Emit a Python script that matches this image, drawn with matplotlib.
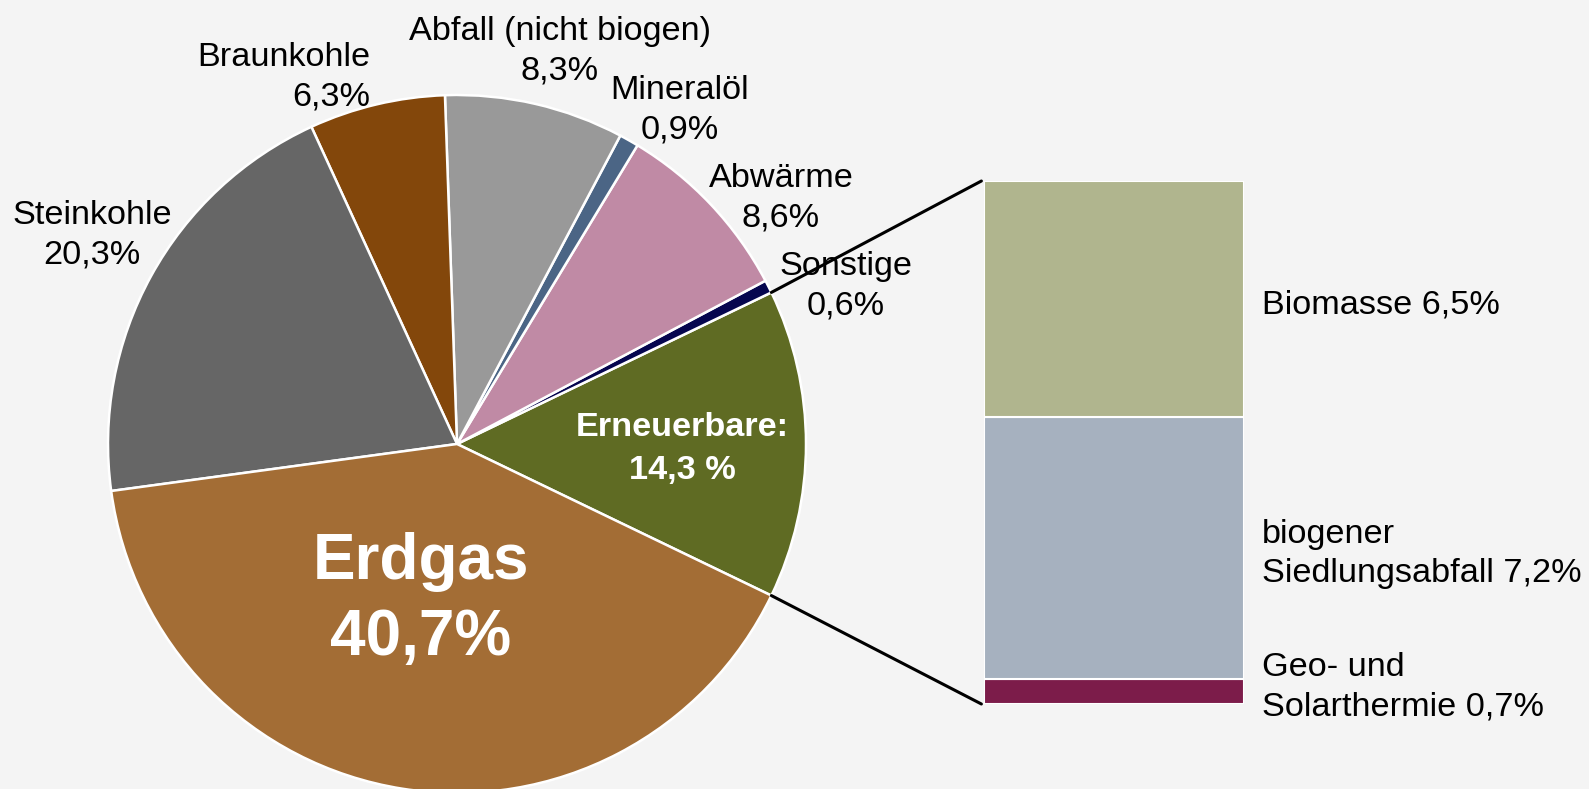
"""
Wärmeerzeugung nach Energieträgern: Kreis mit Aufschlüsselung der Erneuerbaren als Balken.
"""

import matplotlib
matplotlib.use("Agg")
import matplotlib.pyplot as plt
import numpy as np
from matplotlib.patches import ConnectionPatch

plt.rcParams["font.family"] = ["Liberation Sans", "DejaVu Sans"]

# ── Daten ──────────────────────────────────────────────────────────────────────
pie_labels = ["Erneuerbare", "Sonstige", "Abwärme", "Mineralöl",
              "Abfall (nicht biogen)", "Braunkohle", "Steinkohle", "Erdgas"]
pie_values = [14.3, 0.6, 8.6, 0.9, 8.3, 6.3, 20.3, 40.7]
pie_colors = ["#5F6B23", "#06064F", "#C08AA5", "#4B6585",
              "#999999", "#83470B", "#666666", "#A36D35"]

bar_labels = ["Geo- und\nSolarthermie", "biogener\nSiedlungsabfall", "Biomasse"]
bar_values = [0.7, 7.2, 6.5]
bar_colors = ["#7C1C4A", "#A6B1BF", "#B0B58E"]

BG = "#F4F4F4"
W, H = 1589, 789
FS = 24.7
LS = 1.34


def fmt(v):
    return f"{v:.1f}%".replace(".", ",")


def px(x, y):
    """Pixel (von oben links) -> Figurenkoordinaten."""
    return x / W, 1 - y / H


fig = plt.figure(figsize=(W / 100, H / 100), dpi=100, facecolor=BG)

# ── Kreis ──────────────────────────────────────────────────────────────────────
cx, cy, r = 457, 444, 349
ax_pie = fig.add_axes([(cx - r) / W, 1 - (cy + r) / H, 2 * r / W, 2 * r / H])
ax_pie.set_facecolor(BG)
start = -pie_values[0] / 2 * 3.6
wedges, _ = ax_pie.pie(pie_values, colors=pie_colors, startangle=start,
                       counterclock=True,
                       wedgeprops=dict(edgecolor="white", linewidth=1.8))
ax_pie.set_xlim(-1, 1)
ax_pie.set_ylim(-1, 1)
ax_pie.set_aspect("equal")
ax_pie.axis("off")
for w in wedges:
    w.set_clip_on(False)

# ── Balken ─────────────────────────────────────────────────────────────────────
bx0, bx1, by0, by1 = 984, 1244, 181, 704
ax_bar = fig.add_axes([bx0 / W, 1 - by1 / H, (bx1 - bx0) / W, (by1 - by0) / H])
ax_bar.set_facecolor(BG)
bottom = 0
for val, col in zip(bar_values, bar_colors):
    ax_bar.bar(0.5, val, width=1, bottom=bottom, color=col,
               edgecolor="white", linewidth=1.5)
    bottom += val
ax_bar.set_xlim(0, 1)
ax_bar.set_ylim(0, sum(bar_values))
ax_bar.axis("off")

# Verbindungslinien
theta1, theta2 = wedges[0].theta1, wedges[0].theta2
for theta, ybar in [(theta2, sum(bar_values)), (theta1, 0)]:
    xp = np.cos(np.radians(theta))
    yp = np.sin(np.radians(theta))
    con = ConnectionPatch(xyA=(-0.01, ybar), coordsA=ax_bar.transData,
                          xyB=(xp, yp), coordsB=ax_pie.transData,
                          color="black", linewidth=2.2)
    fig.add_artist(con)

# ── Beschriftungen ─────────────────────────────────────────────────────────────
lab = dict(zip(pie_labels, pie_values))

def label(x, y, text, ha="center", ls=LS, **kw):
    fig.text(*px(x, y), text, ha=ha, va="center", fontsize=FS,
             linespacing=ls, multialignment=ha, **kw)

label(560, 51, f"Abfall (nicht biogen)\n{fmt(lab['Abfall (nicht biogen)'])}")
label(370, 77, f"Braunkohle\n{fmt(lab['Braunkohle'])}", ha="right")
label(92, 235, f"Steinkohle\n{fmt(lab['Steinkohle'])}")
label(680, 110, f"Mineralöl\n{fmt(lab['Mineralöl'])}")
label(781, 198, f"Abwärme\n{fmt(lab['Abwärme'])}")
label(846, 286, f"Sonstige\n{fmt(lab['Sonstige'])}")

fig.text(*px(682, 449), f"Erneuerbare:\n{lab['Erneuerbare']:.1f} %".replace(".", ","),
         ha="center", va="center", fontsize=FS, fontweight="bold",
         color="white", linespacing=1.5)
fig.text(*px(421, 600), f"Erdgas\n{fmt(lab['Erdgas'])}",
         ha="center", va="center", fontsize=46, fontweight="bold",
         color="white", linespacing=1.34)

bar_y = [687, 554, 305]
for text, val, y in zip(bar_labels, bar_values, bar_y):
    label(1262, y, f"{text} {fmt(val)}", ha="left")

fig.savefig("out.png", dpi=100, facecolor=BG)
